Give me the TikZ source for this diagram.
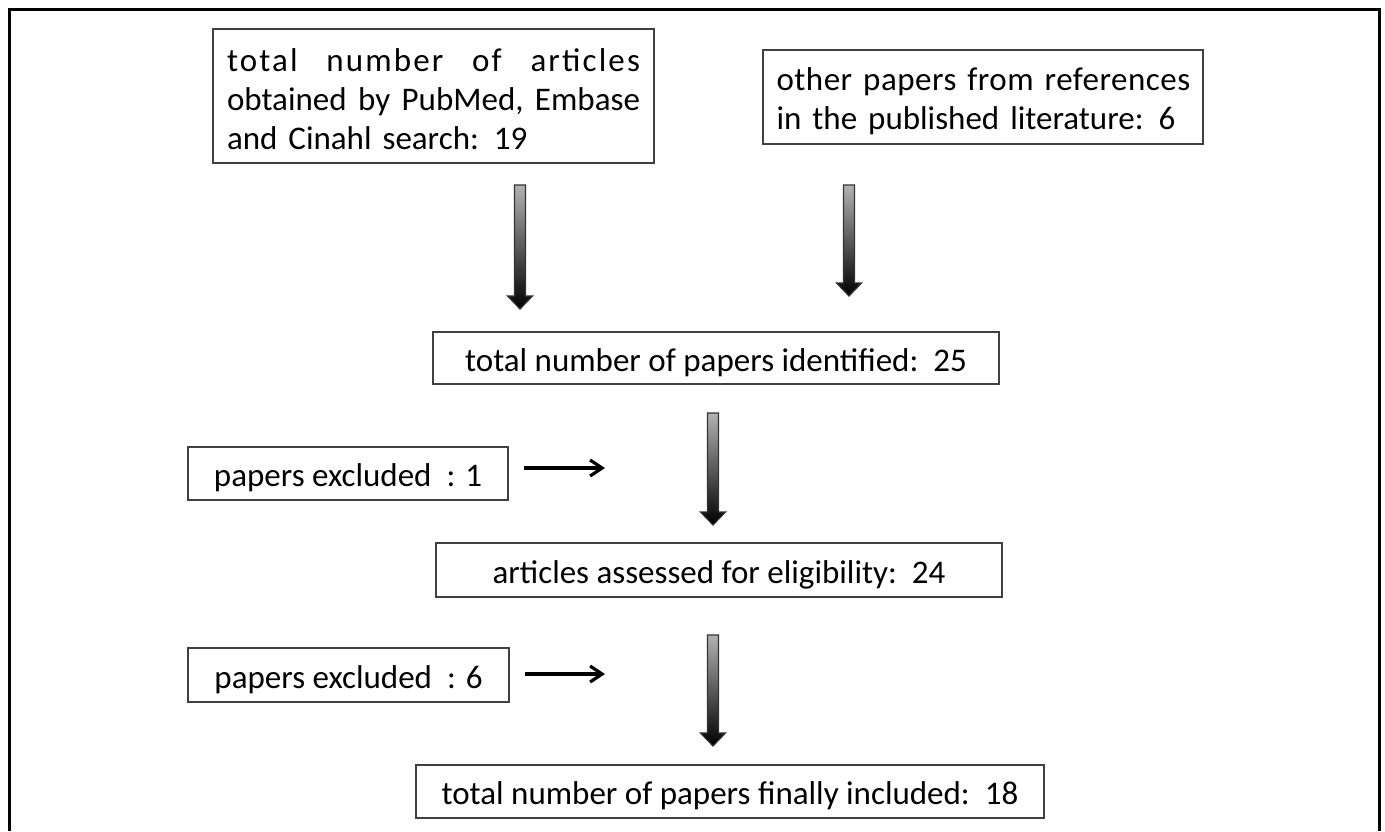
\documentclass[tikz,border=0pt]{standalone}
\usepackage{fontspec}
\setmainfont{Carlito}
\usetikzlibrary{arrows.meta,calc}
\tikzset{
  box/.style={draw=black!75, line width=0.8pt, inner sep=0pt, text=black,
              font=\fontsize{16.5}{19.5}\selectfont},
  onebox/.style={box, text height=15pt, text depth=2pt},
  smallarrow/.style={line width=1.6pt, -{Straight Barb[length=6pt,width=8pt]}},
  framestyle/.style={line width=1.5pt},
  grad/.style={draw=black!80, line width=0.6pt, top color=black!30, bottom color=black}
}
\newcommand\gradarrow[2]{%
  \shade[grad] ($(#1)+(-5.5,0)$) -- ($(#2)+(-5.5,-13)$) -- ($(#2)+(-12.5,-13)$)
    -- (#2) -- ($(#2)+(12.5,-13)$) -- ($(#2)+(5.5,-13)$) -- ($(#1)+(5.5,0)$) -- cycle;}
\newcommand\fullline[1]{\hbox to 206.5pt{#1}}
\begin{document}
\begin{tikzpicture}[x=0.5pt,y=-0.5pt]
\path[fill=white] (0,0) rectangle (1385,831);
\useasboundingbox (0,0) rectangle (1385,831);
% outer frame (open at the bottom)
\draw[framestyle] (9.5,831) -- (9.5,9.5) -- (1379.5,9.5) -- (1379.5,831);

% boxes
\node[box, minimum width=220.5pt, minimum height=67pt, text width=206.5pt] (src1) at (433.5,96)
  {\fullline{\rule{0pt}{14.6pt}{\addfontfeature{LetterSpace=6.5}total \hfill number \hfill of \hfill articles}}
   \fullline{obtained \hfill by \hfill PubMed, \hfill Embase}
   \fullline{and Cinahl search:\hspace{7.5pt}19\hfill}};
\node[box, minimum width=220pt, minimum height=47pt, text width=206.5pt] (src2) at (983,97)
  {\fullline{\rule{0pt}{16pt}{\addfontfeature{LetterSpace=1.5}other \hfill papers \hfill from \hfill references}}
   \fullline{in the published literature:\hspace{7.5pt}6\hfill}};
\node[onebox, minimum width=283pt, minimum height=26pt] (ident) at (716,358)
  {total number of papers identified:\hspace{7.5pt}25};
\node[onebox, minimum width=160pt, minimum height=26.5pt] (exc1) at (348,473.5)
  {papers excluded\hspace{7.5pt}: 1};
\node[onebox, minimum width=283pt, minimum height=27pt] (elig) at (719,570)
  {articles assessed for eligibility:\hspace{7.5pt}24};
\node[onebox, minimum width=160.5pt, minimum height=27pt] (exc2) at (348.5,675)
  {papers excluded\hspace{7.5pt}: 6};
\node[onebox, minimum width=314pt, minimum height=26.5pt] (incl) at (730,791.5)
  {total number of papers finally included:\hspace{7.5pt}18};

% free ends of the shaded arrows
\coordinate (a1s) at (520,185); \coordinate (a1e) at (520,309);
\coordinate (a2s) at (849,185); \coordinate (a2e) at (849,296);
\coordinate (a3s) at (713,413); \coordinate (a3e) at (713,525);
\coordinate (a4s) at (713,635); \coordinate (a4e) at (713,746);
\gradarrow{a1s}{a1e}
\gradarrow{a2s}{a2e}
\gradarrow{a3s}{a3e}
\gradarrow{a4s}{a4e}

% small exclusion arrows
\coordinate (e1e) at (605,468);
\coordinate (e2e) at (605,674);
\draw[smallarrow, shorten <=7.5pt] (exc1.east |- e1e) -- (e1e);
\draw[smallarrow, shorten <=7.5pt] (exc2.east |- e2e) -- (e2e);
\end{tikzpicture}
\end{document}
